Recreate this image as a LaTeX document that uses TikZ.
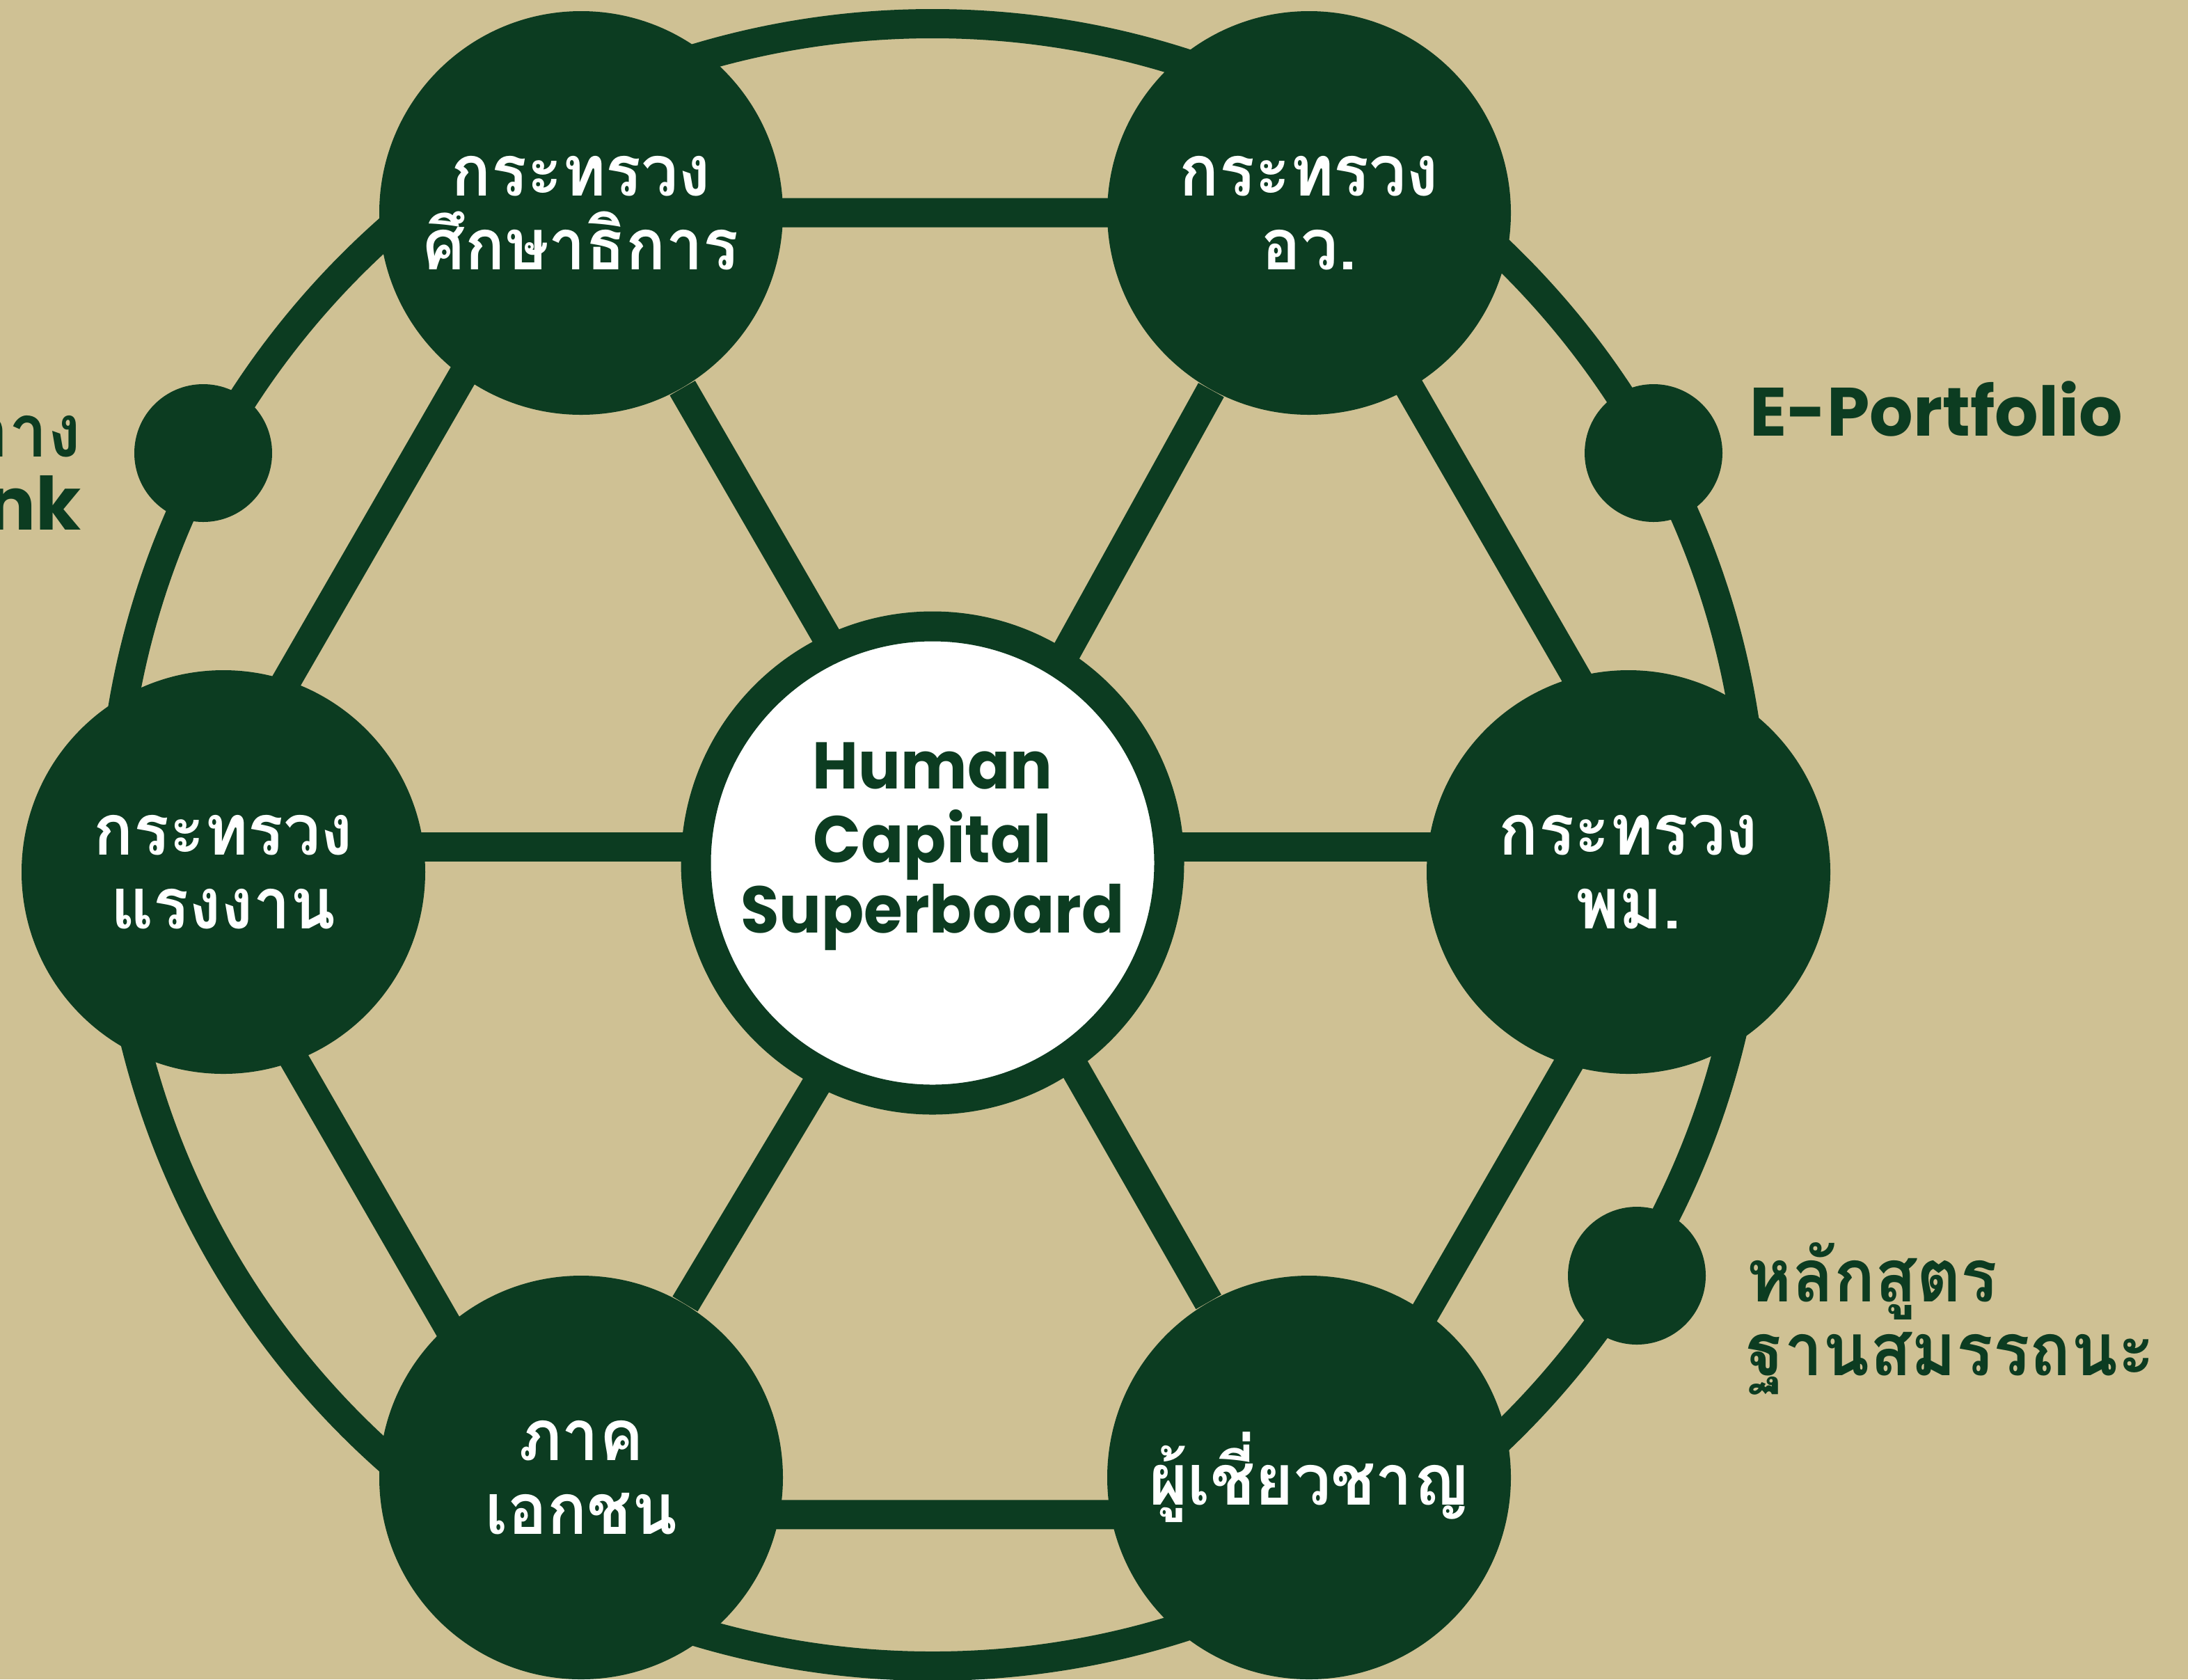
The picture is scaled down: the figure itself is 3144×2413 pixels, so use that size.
\documentclass[tikz,border=0pt]{standalone}
\usepackage{fontspec}
\setmainfont{Poppins}
\newfontfamily\thaifont[Script=Thai,FakeStretch=0.93]{Loma}
\usetikzlibrary{
  calc,positioning
}
\definecolor{bgbeige}{HTML}{CFC194}
\definecolor{darkgreen}{HTML}{0C3C21}
\pgfdeclarelayer{bg}
\pgfsetlayers{bg,main}
\tikzset{
  ministry/.style={circle,fill=darkgreen,minimum size=58mm,inner sep=0pt,
    text=white,align=center,
    font=\thaifont\bfseries\fontsize{29pt}{30pt}\selectfont},
  boardnode/.style={circle,fill=white,draw=darkgreen,line width=4.3mm,
    minimum size=68mm,inner sep=0pt,text=darkgreen,
    font=\bfseries\fontsize{27pt}{28.5pt}\selectfont\addfontfeature{FakeStretch=0.95}},
  hubdot/.style={circle,fill=darkgreen,minimum size=19.8mm,inner sep=0pt},
  link/.style={draw=darkgreen,line width=4.2mm},
  sidetext/.style={text=darkgreen,inner sep=0pt,
    font=\thaifont\bfseries\fontsize{30pt}{30pt}\selectfont}
}
\begin{document}
\begin{tikzpicture}[x=0.1mm,y=0.1mm]

\useasboundingbox (0,0) rectangle (3144,-2413);

% main circles
\node[ministry] (edu) at (835,-306) {กระทรวง\\ศึกษาธิการ};
\node[ministry] (hes) at (1881,-306) {กระทรวง\\อว.};
\node[ministry] (lab) at (321,-1253) {กระทรวง\\แรงงาน};
\node[ministry] (msd) at (2340,-1253) {กระทรวง\\พม.};
\node[ministry] (pri) at (835,-2123) {ภาค\\เอกชน};
\node[ministry] (exp) at (1881,-2123) {ผู้เชี่ยวชาญ};
\node[boardnode] (hcs) at (1340,-1240)
  {\raisebox{2.3mm}[\height][\depth]{\begin{tabular}{@{}c@{}}Human\\Capital\\Superboard\end{tabular}}};

% small circles on the ring
\node[hubdot] (bank) at (292,-651) {};
\node[hubdot] (port) at (2376,-651) {};
\node[hubdot] (comp) at (2352,-1833) {};

% side texts
\node[sidetext,align=right,anchor=east] (banktxt) at (117,-666)
  {ระบบธนาคารหน่วยกิตกลาง\\{\rmfamily\mdseries\bfseries Credit Bank}};
\node[sidetext,anchor=base west,font=\bfseries\fontsize{28pt}{28pt}\selectfont]
  (porttxt) at (2514,-626) {E-Portfolio};
\node[sidetext,align=left,anchor=west] (comptxt) at (2510,-1895)
  {หลักสูตร\\ฐานสมรรถนะ};

\coordinate (ringc) at (1340,-1214);
\coordinate (hexc) at (1340,-1241);
\coordinate (hub) at (1370,-1230);
\coordinate (hrow) at (0,-1217);
\foreach \a [count=\i] in {0,60,...,300}
  \coordinate (v\i) at ($(hexc)+(\a:1080)$);

\begin{pgfonlayer}{bg}
\fill[bgbeige] (0,0) rectangle (3144,-2413);
\draw[link] (ringc) circle[radius=1180];
\draw[link] (v1) -- (v2) -- (v3) -- (v4) -- (v5) -- (v6) -- cycle;
\draw[link] (lab |- hrow) -- (msd |- hrow);
\foreach \n in {edu,hes,pri,exp}
  \draw[link] (\n) -- (hub);
\end{pgfonlayer}
\end{tikzpicture}
\end{document}
